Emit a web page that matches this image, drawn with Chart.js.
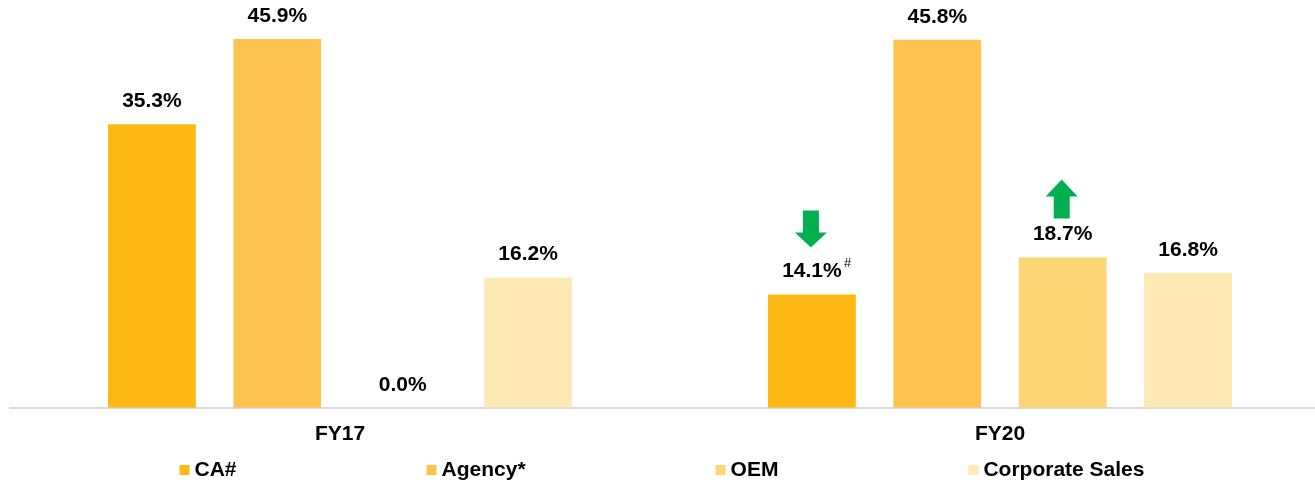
<!DOCTYPE html>
<html>
<head>
<meta charset="utf-8">
<script src="https://cdn.jsdelivr.net/npm/chart.js@4.4.1/dist/chart.umd.min.js"></script>
<style>
  html, body { margin: 0; padding: 0; background: #ffffff; overflow: hidden; width: 1315px; height: 484px; }
  canvas { display: block; }
</style>
</head>
<body>
<canvas id="c" width="1340" height="484"></canvas>
<script>
// ---- data ----
const categories = ['FY17', 'FY20'];
const seriesNames = ['CA#', 'Agency*', 'OEM', 'Corporate Sales'];
const caValues = [35.3, 14.1];
const agencyValues = [45.9, 45.8];
const oemValues = [0.0, 18.7];
const corporateValues = [16.2, 16.8];
const caNotes = ['', '#'];
// arrows: which bar gets a trend arrow
const trendArrows = [
  { series: 0, index: 1, dir: 'down' },
  { series: 2, index: 1, dir: 'up' }
];

const colors = ['#FDB913', '#FEC34F', '#FED574', '#FEE9B4'];
const FONT = '"Liberation Sans", Arial, Helvetica, sans-serif';

const valuesList = [caValues, agencyValues, oemValues, corporateValues];
const notesList = [caNotes, ['', ''], ['', ''], ['', '']];

const datasets = seriesNames.map((name, i) => ({
  label: name,
  data: valuesList[i],
  backgroundColor: colors[i],
  borderWidth: 0,
  categoryPercentage: 0.76,
  barPercentage: 0.70
}));

const valueLabels = {
  id: 'valueLabels',
  afterDatasetsDraw(chart) {
    const ctx = chart.ctx;
    ctx.save();
    chart.data.datasets.forEach((ds, di) => {
      const meta = chart.getDatasetMeta(di);
      meta.data.forEach((bar, i) => {
        const v = ds.data[i];
        const txt = v.toFixed(1) + '%';
        ctx.font = 'bold 21px ' + FONT;
        ctx.fillStyle = '#000000';
        ctx.textAlign = 'center';
        ctx.textBaseline = 'middle';
        const y = bar.y - 23;
        ctx.fillText(txt, bar.x, y);
        const note = notesList[di][i];
        if (note) {
          const w = ctx.measureText(txt).width;
          ctx.font = 'italic 13px ' + FONT;
          ctx.textAlign = 'left';
          ctx.fillText(note, bar.x + w / 2 + 2, y - 8);
        }
      });
    });
    ctx.restore();
  }
};

const arrowsPlugin = {
  id: 'arrows',
  afterDatasetsDraw(chart) {
    const ctx = chart.ctx;
    ctx.save();
    ctx.fillStyle = '#00B050';
    trendArrows.forEach(a => {
      const bar = chart.getDatasetMeta(a.series).data[a.index];
      const cx = bar.x - 1;
      const sw = 8, hw = 16;
      ctx.beginPath();
      if (a.dir === 'down') {
        const top = bar.y - 84, base = bar.y - 62, tip = bar.y - 47;
        ctx.moveTo(cx - sw, top);
        ctx.lineTo(cx + sw, top);
        ctx.lineTo(cx + sw, base);
        ctx.lineTo(cx + hw, base);
        ctx.lineTo(cx, tip);
        ctx.lineTo(cx - hw, base);
        ctx.lineTo(cx - sw, base);
      } else {
        const tip = bar.y - 78, base = bar.y - 61, bottom = bar.y - 39;
        ctx.moveTo(cx, tip);
        ctx.lineTo(cx + hw, base);
        ctx.lineTo(cx + sw, base);
        ctx.lineTo(cx + sw, bottom);
        ctx.lineTo(cx - sw, bottom);
        ctx.lineTo(cx - sw, base);
        ctx.lineTo(cx - hw, base);
      }
      ctx.closePath();
      ctx.fill();
    });
    ctx.restore();
  }
};

const legendLayout = { centerX: 662, y: 470, box: 10, textGap: 5, itemGap: 190 };
const customLegend = {
  id: 'customLegend',
  afterDraw(chart) {
    const ctx = chart.ctx;
    const L = legendLayout;
    ctx.save();
    ctx.font = 'bold 21px ' + FONT;
    const widths = chart.data.datasets.map(ds => ctx.measureText(ds.label).width);
    let total = 0;
    widths.forEach(w => total += L.box + L.textGap + w);
    total += L.itemGap * (widths.length - 1);
    let x = L.centerX - total / 2;
    chart.data.datasets.forEach((ds, i) => {
      ctx.fillStyle = ds.backgroundColor;
      ctx.fillRect(x, L.y - L.box / 2, L.box, L.box);
      ctx.fillStyle = '#000000';
      ctx.textAlign = 'left';
      ctx.textBaseline = 'middle';
      ctx.fillText(ds.label, x + L.box + L.textGap, L.y);
      x += L.box + L.textGap + widths[i] + L.itemGap;
    });
    ctx.restore();
  }
};

new Chart(document.getElementById('c'), {
  type: 'bar',
  data: { labels: categories, datasets },
  options: {
    responsive: false,
    animation: false,
    layout: { padding: { top: 6, bottom: 23, left: 10, right: 10 } },
    plugins: {
      legend: { display: false },
      tooltip: { enabled: false }
    },
    scales: {
      x: {
        grid: { display: false, drawTicks: false },
        border: { display: true, color: '#D9D9D9', width: 2 },
        ticks: {
          color: '#000000',
          padding: 14,
          font: { family: FONT, size: 21, weight: 'bold' }
        }
      },
      y: {
        display: false,
        min: 0,
        max: 50
      }
    }
  },
  plugins: [valueLabels, arrowsPlugin, customLegend]
});
</script>
</body>
</html>
